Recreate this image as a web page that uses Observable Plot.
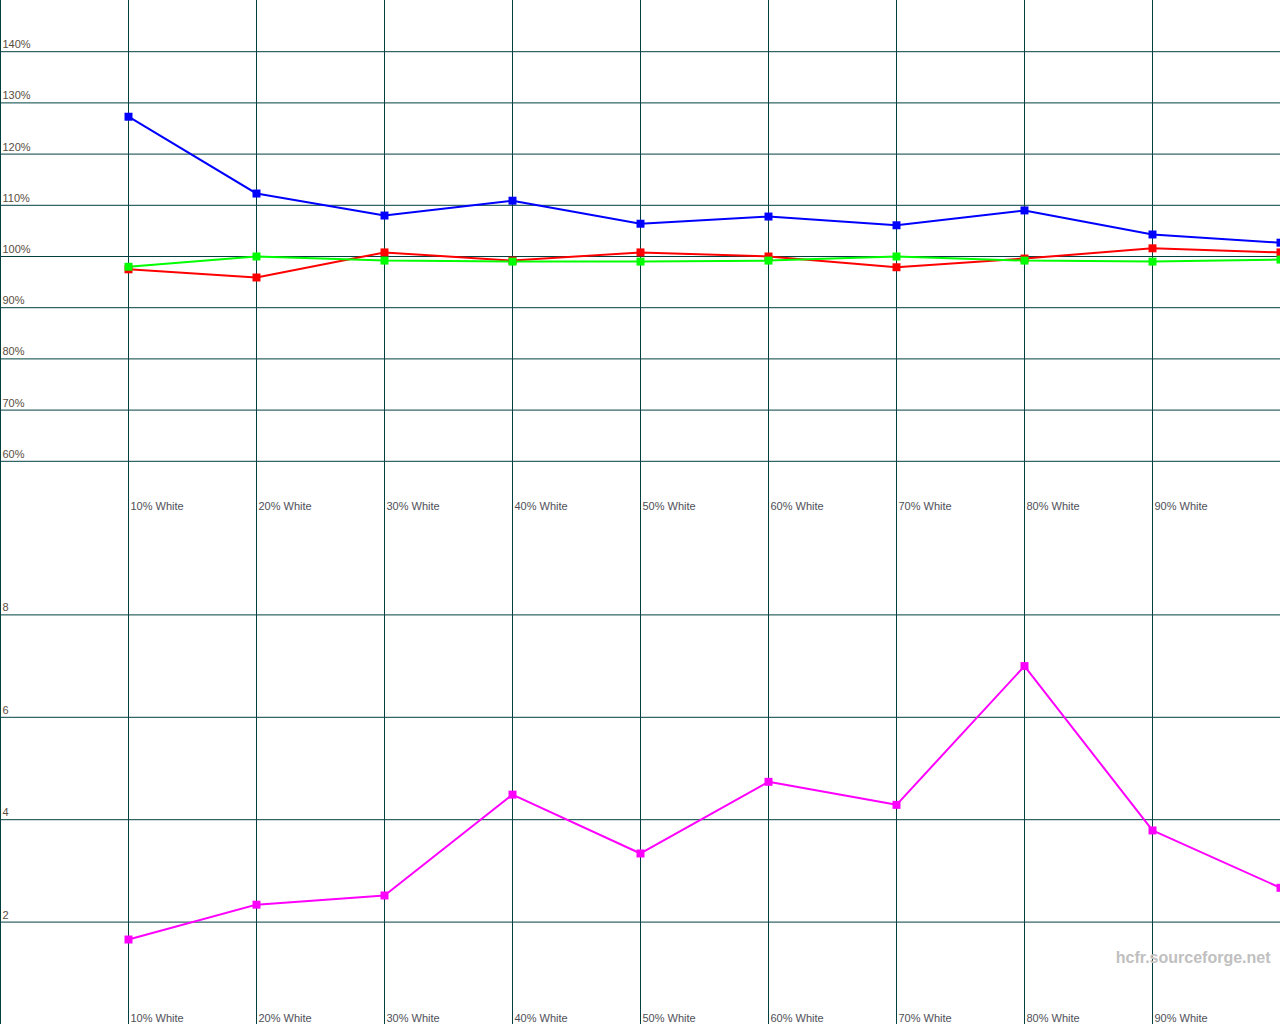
<!DOCTYPE html>
<html>
<head>
<meta charset="utf-8">
<script src="https://cdn.jsdelivr.net/npm/d3@7"></script>
<script src="https://cdn.jsdelivr.net/npm/@observablehq/plot@0.6"></script>
<style>
  html, body { margin: 0; padding: 0; background: #fff; overflow: hidden; }
  #chart svg { display: block; }
</style>
</head>
<body>
<div id="chart"></div>
<script>
// Categories (grayscale steps) and their x position (% white)
const categories = ["10% White","20% White","30% White","40% White","50% White","60% White","70% White","80% White","90% White","100% White"];
const levels = [10, 20, 30, 40, 50, 60, 70, 80, 90, 100];
// The reference only shows labels for the first nine steps (100% sits on the right edge)
const labelledCount = 9;

// RGB levels (%)
const redLevels   = [97.5, 95.9, 100.8, 99.2, 100.8, 100.0, 97.9, 99.6, 101.6, 100.8];
const greenLevels = [98.0, 100.0, 99.2, 99.0, 99.0, 99.2, 100.0, 99.2, 99.0, 99.4];
const blueLevels  = [127.3, 112.3, 108.0, 110.9, 106.4, 107.8, 106.1, 109.0, 104.3, 102.7];

// Delta E
const deltaE = [1.66, 2.34, 2.52, 4.49, 3.34, 4.74, 4.29, 7.0, 3.79, 2.67];

// Tick labels
const topTicks = [60, 70, 80, 90, 100, 110, 120, 130, 140];
const bottomTicks = [2, 4, 6, 8];
const xGrid = [0, 10, 20, 30, 40, 50, 60, 70, 80, 90, 100];

const gridColor = "#004040";
const textColor = "#5a4e40";
const labelColor = "#4e5058";
const font = "'Liberation Sans', Arial, sans-serif";

function series(vals, name) {
  return vals.map((v, i) => ({x: levels[i], y: v, s: name}));
}
const rgb = [...series(blueLevels, "B"), ...series(redLevels, "R"), ...series(greenLevels, "G")];
const colorMap = {B: "#0000ff", R: "#ff0000", G: "#00ff00"};
const catData = levels.map((x, i) => ({x, label: categories[i]})).slice(0, labelledCount);

const common = {
  width: 1280, height: 512,
  marginLeft: 0, marginRight: 0, marginTop: 0, marginBottom: 0,
  x: {domain: [0, 100], axis: null},
  style: {fontFamily: font, fontSize: "11px", background: "#fff", overflow: "visible"}
};

const topPlot = Plot.plot({
  ...common,
  y: {domain: [50, 150], axis: null},
  marks: [
    Plot.ruleY(topTicks, {stroke: gridColor, strokeWidth: 1}),
    Plot.ruleX(xGrid, {stroke: gridColor, strokeWidth: 1}),
    Plot.ruleY([100], {stroke: gridColor, strokeWidth: 1, strokeDasharray: "3,2"}),
    Plot.text(topTicks, {x: 0, y: d => d, text: d => d + "%", textAnchor: "start", dx: 2, dy: -7, fill: textColor}),
    Plot.text(catData, {x: "x", y: 50, text: "label", textAnchor: "start", dx: 2, dy: -6, fill: labelColor}),
    Plot.line(rgb, {x: "x", y: "y", z: "s", stroke: d => colorMap[d.s], strokeWidth: 2}),
    Plot.dot(rgb, {x: "x", y: "y", symbol: "square", r: 4.5, fill: d => colorMap[d.s], stroke: "none"})
  ]
});

const dE = deltaE.map((v, i) => ({x: levels[i], y: v}));
const bottomPlot = Plot.plot({
  ...common,
  y: {domain: [0, 10], axis: null},
  marks: [
    Plot.ruleY(bottomTicks, {stroke: gridColor, strokeWidth: 1}),
    Plot.ruleX(xGrid, {stroke: gridColor, strokeWidth: 1}),
    Plot.text(bottomTicks, {x: 0, y: d => d, text: d => String(d), textAnchor: "start", dx: 2, dy: -7, fill: textColor}),
    Plot.text(catData, {x: "x", y: 0, text: "label", textAnchor: "start", dx: 2, dy: -6, fill: labelColor}),
    Plot.text(["hcfr.sourceforge.net"], {x: 100, y: 1.3, text: d => d, textAnchor: "end", dx: -10, fill: "#c0c0c0", fontSize: 16, fontWeight: "bold"}),
    Plot.line(dE, {x: "x", y: "y", stroke: "#ff00ff", strokeWidth: 2}),
    Plot.dot(dE, {x: "x", y: "y", symbol: "square", r: 4.5, fill: "#ff00ff", stroke: "none"})
  ]
});

document.getElementById("chart").append(topPlot, bottomPlot);
</script>
</body>
</html>
